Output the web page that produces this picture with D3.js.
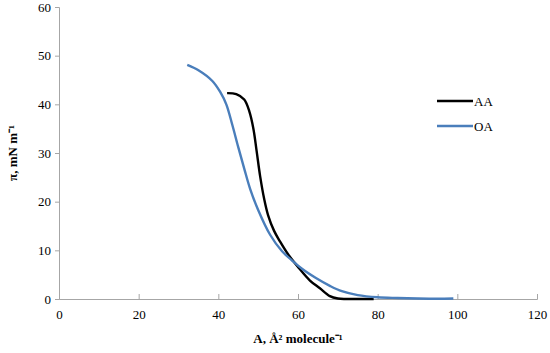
<!DOCTYPE html>
<html>
<head>
<meta charset="utf-8">
<script src="https://cdn.jsdelivr.net/npm/d3@7"></script>
<style>
  body { margin: 0; background: #fff; }
  text { font-family: "Liberation Serif", "Times New Roman", serif; fill: #000; }
</style>
</head>
<body>
<div id="chart"></div>
<script>
// surface pressure isotherms
const aaArea = [42.2, 44.5, 46.5, 47.8, 48.8, 49.6, 50.5, 51.5, 52.5, 54, 55.5, 57.5, 60, 63, 65.5, 68, 70, 72, 75, 79];
const aaPressure = [42.3, 42.1, 41.0, 38.5, 35, 30.5, 25.2, 20.6, 17.2, 14, 11.8, 9.2, 6.6, 3.8, 2.2, 0.6, 0.1, 0, 0, 0];

const oaArea = [32.2, 35, 38.5, 40.5, 42, 43.5, 45, 46.5, 48, 50, 53, 56, 58.4, 61, 64.5, 68, 71, 75, 80, 85, 90, 95, 99];
const oaPressure = [48.1, 47, 44.8, 42.5, 40, 35.8, 31.2, 26.8, 22.6, 18.3, 13.2, 9.8, 8, 6.2, 4.3, 2.7, 1.6, 0.8, 0.35, 0.2, 0.1, 0.05, 0.1];

const xTicks = [0, 20, 40, 60, 80, 100, 120];
const yTicks = [0, 10, 20, 30, 40, 50, 60];

const series = [
  { name: "AA", color: "#000000", x: aaArea, y: aaPressure },
  { name: "OA", color: "#4a7ebb", x: oaArea, y: oaPressure },
];

const W = 550, H = 353;
const margin = { top: 7, right: 13, bottom: 54, left: 59 };
const width = W - margin.left - margin.right;
const height = H - margin.top - margin.bottom;

const svg = d3.select("#chart").append("svg")
  .attr("width", W).attr("height", H);

const g = svg.append("g")
  .attr("transform", `translate(${margin.left},${margin.top})`);

const x = d3.scaleLinear().domain([0, 120]).range([0, width]);
const y = d3.scaleLinear().domain([0, 60]).range([height, 0]);

const axisColor = "#a6a6a6";

// y axis
const yAxis = g.append("g")
  .call(d3.axisLeft(y).tickValues(yTicks).tickSize(4).tickPadding(4));
yAxis.selectAll("text").style("font-size", "13px");

// x axis
const xAxis = g.append("g")
  .attr("transform", `translate(0,${height})`)
  .call(d3.axisBottom(x).tickValues(xTicks).tickSize(-5).tickPadding(11));
xAxis.selectAll("text").style("font-size", "13px");

[yAxis, xAxis].forEach(a => {
  a.select(".domain").attr("stroke", axisColor);
  a.selectAll(".tick line").attr("stroke", axisColor);
});

// lines
const line = d3.line()
  .x(d => x(d[0]))
  .y(d => y(d[1]))
  .curve(d3.curveCatmullRom.alpha(0.5));

series.forEach(s => {
  g.append("path")
    .datum(s.x.map((v, i) => [v, s.y[i]]))
    .attr("d", line)
    .attr("fill", "none")
    .attr("stroke", s.color)
    .attr("stroke-width", 2.4)
    .attr("stroke-linejoin", "round");
});

// legend
const legend = svg.append("g").attr("transform", "translate(437,101)");
series.forEach((s, i) => {
  const row = legend.append("g").attr("transform", `translate(0,${i * 25})`);
  row.append("line")
    .attr("x1", 0).attr("x2", 36)
    .attr("stroke", s.color).attr("stroke-width", 2.4);
  row.append("text")
    .attr("x", 37).attr("y", 5)
    .style("font-size", "13px")
    .text(s.name);
});

// axis titles
svg.append("text")
  .attr("x", margin.left + x(60))
  .attr("y", 343)
  .attr("text-anchor", "middle")
  .style("font-size", "13px")
  .style("font-weight", "bold")
  .text("A, Å² molecule⁻¹");

svg.append("text")
  .attr("transform", `translate(17,${margin.top + y(30)}) rotate(-90)`)
  .attr("text-anchor", "middle")
  .style("font-size", "13px")
  .style("font-weight", "bold")
  .text("π, mN m⁻¹");
</script>
</body>
</html>
